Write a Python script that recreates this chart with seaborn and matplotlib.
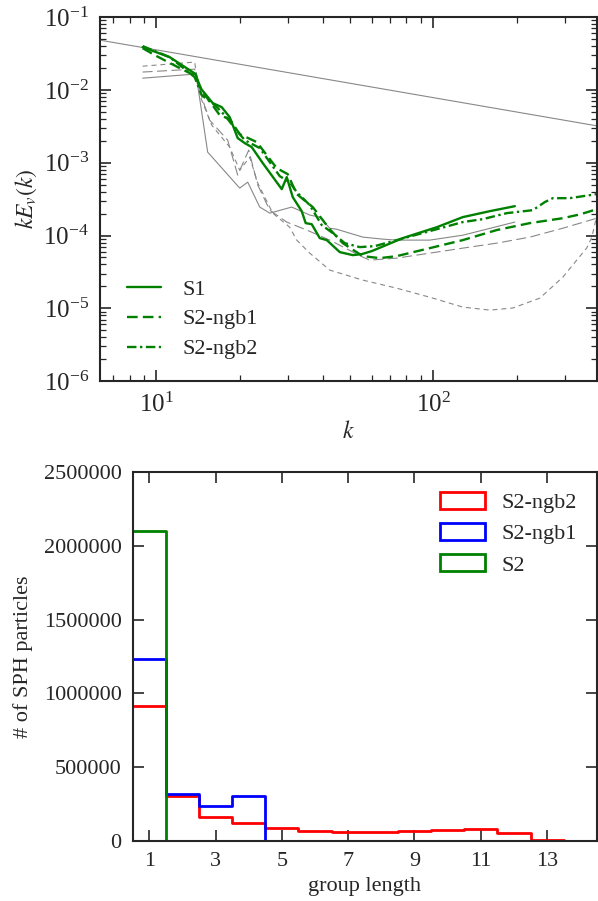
import seaborn as sns
import matplotlib.pyplot as plt
import matplotlib.ticker as mticker
from matplotlib.patches import Patch
import numpy as np

# ---- top panel: spectra ----
k_s1 = [8.92, 11.17, 13.87, 14.34, 15.98, 17.22, 18.40, 19.67, 20.85, 22.10, 24.23, 28.37, 29.58,
        31.09, 33.50, 34.63, 36.41, 38.93, 41.26, 45.97, 51.22, 55.21, 60.01, 77.64, 103.0, 127.9,
        160.2, 197.2]
E_s1 = [0.0387, 0.0282, 0.0165, 0.0109, 0.00659, 0.00580, 0.00423, 0.00218, 0.00186, 0.00164,
        9.88e-4, 4.34e-4, 6.34e-4, 3.37e-4, 2.16e-4, 1.48e-4, 1.43e-4, 9.21e-5, 8.65e-5, 5.92e-5,
        5.38e-5, 5.55e-5, 6.11e-5, 9.21e-5, 1.30e-4, 1.79e-4, 2.16e-4, 2.53e-4]

k_ngb1 = [8.92, 9.86, 11.94, 13.87, 14.70, 15.85, 16.94, 18.40, 20.0, 23.05, 27.21, 29.82, 32.14,
          36.72, 42.30, 47.13, 55.68, 64.12, 73.86, 97.21, 127.9, 169.8, 223.4, 294.0, 338.8, 390.3]
E_ngb1 = [0.0375, 0.0301, 0.0206, 0.0155, 0.00933, 0.00638, 0.00450, 0.00397, 0.00247, 0.00192,
          8.43e-4, 6.97e-4, 3.71e-4, 2.46e-4, 1.22e-4, 7.86e-5, 5.21e-5, 4.89e-5, 5.21e-5, 6.71e-5,
          8.65e-5, 1.19e-4, 1.48e-4, 1.73e-4, 1.95e-4, 2.30e-4]

k_ngb2 = [8.92, 11.17, 13.75, 14.58, 16.25, 17.65, 19.19, 20.85, 23.63, 27.90, 30.32, 32.14, 35.81,
          39.58, 43.37, 47.92, 54.30, 61.52, 73.86, 97.21, 127.9, 151.1, 184.5, 229.1, 253.1, 270.5,
          311.7, 390.3]
E_ngb2 = [0.0400, 0.0282, 0.0150, 0.00848, 0.00618, 0.00450, 0.00299, 0.00204, 0.00159, 6.54e-4,
          5.41e-4, 3.95e-4, 2.62e-4, 1.39e-4, 1.08e-4, 7.86e-5, 6.93e-5, 7.15e-5, 8.65e-5, 1.15e-4,
          1.53e-4, 1.68e-4, 2.03e-4, 2.23e-4, 2.88e-4, 3.26e-4, 3.26e-4, 3.71e-4]

# gray comparison spectra
k_g1 = [8.92, 13.75, 14.10, 15.32, 20.0, 21.38, 23.63, 25.68, 30.83, 35.81, 38.93, 42.30, 44.84,
        55.68, 65.74, 73.86, 97.21, 127.9, 197.2]
E_g1 = [0.0145, 0.0165, 0.01164, 0.00140, 4.48e-4, 5.41e-4, 2.46e-4, 2.03e-4, 2.46e-4, 1.91e-4,
        1.79e-4, 1.26e-4, 1.22e-4, 9.51e-5, 8.92e-5, 8.65e-5, 8.65e-5, 1.01e-4, 1.53e-4]

k_g2 = [8.92, 13.75, 14.70, 15.58, 18.10, 19.67, 21.56, 23.24, 25.68, 29.58, 34.93, 42.30, 55.68,
        59.02, 73.86, 97.21, 127.9, 169.8, 223.4, 294.0, 390.3]
E_g2 = [0.0176, 0.0193, 0.00724, 0.00385, 0.00204, 6.76e-4, 0.00149, 4.93e-4, 2.23e-4, 1.53e-4,
        1.19e-4, 8.65e-5, 5.05e-5, 4.59e-5, 4.89e-5, 5.73e-5, 6.71e-5, 7.86e-5, 9.51e-5, 1.26e-4,
        1.73e-4]

k_g3 = [8.92, 13.75, 14.34, 15.85, 18.40, 20.0, 21.74, 23.24, 26.32, 30.32, 32.14, 35.81, 42.30,
        55.68, 73.86, 97.21, 127.9, 160.2, 194.0, 242.8, 294.0, 359.1, 374.3, 390.3]
E_g3 = [0.0212, 0.0241, 0.00848, 0.00328, 0.00164, 7.91e-4, 0.00119, 5.25e-4, 2.03e-4, 1.30e-4,
        8.65e-5, 5.73e-5, 3.35e-5, 2.44e-5, 1.89e-5, 1.42e-5, 1.04e-5, 9.45e-6, 1.01e-5, 1.38e-5,
        2.68e-5, 6.8e-5, 9.5e-5, 1.91e-4]

# k^-2/3 reference line
k_ref = [6.25, 390.3]
E_ref = [0.0483, 0.00321]

# ---- bottom panel: group length histogram ----
group_len = np.arange(1, 15)
n_ngb2 = [912000, 306000, 165000, 120000, 90000, 70000, 63000, 59000, 66000, 75000, 81000, 52000, 9000, 0]
n_ngb1 = [1235000, 319000, 238000, 308000, 0, 0, 0, 0, 0, 0, 0, 0, 0, 0]
n_s2 = [2100000, 0, 0, 0, 0, 0, 0, 0, 0, 0, 0, 0, 0, 0]

sns.set_style("ticks")
plt.rcParams['font.family'] = ['Liberation Serif', 'DejaVu Serif']
plt.rcParams['mathtext.fontset'] = 'stix'
plt.rcParams['font.size'] = 16
plt.rcParams['axes.linewidth'] = 1.5

fig = plt.figure(figsize=(5.98, 9.01), dpi=100)
ax1 = fig.add_axes([0.167, 0.577, 0.831, 0.404])
ax2 = fig.add_axes([0.222, 0.0666, 0.776, 0.4095])

gray = '#888888'
sns.lineplot(x=k_ref, y=E_ref, ax=ax1, color=gray, lw=0.8)
sns.lineplot(x=k_g1, y=E_g1, ax=ax1, color=gray, lw=0.8)
sns.lineplot(x=k_g2, y=E_g2, ax=ax1, color=gray, lw=0.8, linestyle=(0, (9, 4)))
sns.lineplot(x=k_g3, y=E_g3, ax=ax1, color=gray, lw=0.8, linestyle=(0, (4.5, 3.5)))

green = '#008000'
sns.lineplot(x=k_s1, y=E_s1, ax=ax1, color=green, lw=1.7, label='S1')
sns.lineplot(x=k_ngb1, y=E_ngb1, ax=ax1, color=green, lw=1.7, linestyle=(0, (4.5, 2.2)), label='S2-ngb1')
sns.lineplot(x=k_ngb2, y=E_ngb2, ax=ax1, color=green, lw=1.7, linestyle=(0, (4, 1.5, 1, 1.5)), label='S2-ngb2')

ax1.set_xscale('log')
ax1.set_yscale('log')
ax1.set_xlim(6.25, 390)
ax1.set_ylim(1e-6, 1e-1)
ax1.set_xlabel('$k$', fontsize=17, labelpad=3)
ax1.set_ylabel('$kE_v(k)$', fontsize=17, labelpad=3)
ax1.tick_params(which='both', direction='in', top=True, right=True, labelsize=18, pad=8)
ax1.tick_params(which='major', length=8, width=1.2)
ax1.tick_params(which='minor', length=4, width=0.9)
ax1.legend(loc='lower left', bbox_to_anchor=(0.015, 0.005), frameon=False, fontsize=16,
           handlelength=1.5, handletextpad=1.0, labelspacing=0.42)

sns.histplot(x=group_len, weights=n_ngb2, discrete=True, element='step', fill=False,
             color='red', linewidth=2, ax=ax2)
sns.histplot(x=group_len, weights=n_ngb1, discrete=True, element='step', fill=False,
             color='blue', linewidth=2, ax=ax2)
sns.histplot(x=group_len, weights=n_s2, discrete=True, element='step', fill=False,
             color='green', linewidth=2, ax=ax2)

ax2.set_xlim(0.5, 14.5)
ax2.set_ylim(0, 2500000)
ax2.set_xticks(range(1, 14, 2))
ax2.set_yticks(range(0, 2500001, 500000))
ax2.yaxis.set_major_formatter(mticker.FuncFormatter(lambda v, p: f'{int(v)}'))
ax2.set_xlabel('group length', fontsize=16, labelpad=4)
ax2.set_ylabel('# of SPH particles', fontsize=16, labelpad=8)
ax2.tick_params(which='both', direction='in', top=True, right=True, labelsize=16, length=8,
                width=1.2, pad=8)

handles = [Patch(facecolor='none', edgecolor=c, lw=2) for c in ['red', 'blue', 'green']]
ax2.legend(handles, ['S2-ngb2', 'S2-ngb1', 'S2'], loc='upper right', frameon=False, fontsize=16,
           handlelength=2.0, handleheight=0.8, handletextpad=0.75, labelspacing=0.45)

fig.savefig('out.png', dpi=100)
